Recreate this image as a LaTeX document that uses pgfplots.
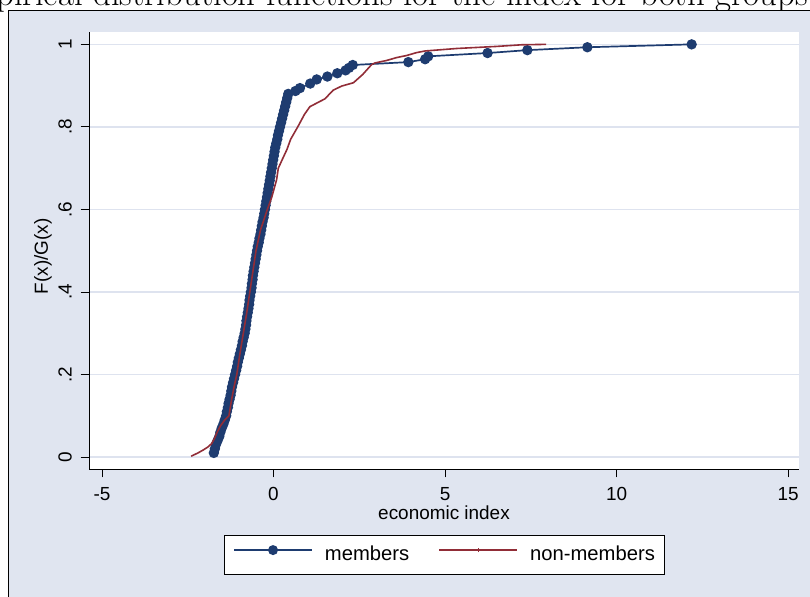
\documentclass[border=0pt]{standalone}
\usepackage{pgfplots}
\pgfplotsset{compat=1.18}
\usepackage{fontspec}
\newfontfamily\arial{Liberation Sans}
\definecolor{bgc}{RGB}{224,229,240}
\definecolor{gridc}{RGB}{222,227,239}
\definecolor{sblue}{RGB}{30,60,112}
\definecolor{sred}{RGB}{145,45,55}
\pgfplotsset{
  bluelegend/.style={legend image code/.code={\draw[mark repeat=2,mark phase=2,##1, line width=1.9bp, mark size=4bp] plot coordinates {(0bp,5bp) (39bp,5bp) (78bp,5bp)};}},
  redlegend/.style={legend image code/.code={\draw[sred, line width=1.9bp] (0bp,5bp) -- (78bp,5bp); \draw[sred, line width=0.8bp] (39bp,3bp) -- (39bp,7bp);}}
}
\begin{document}
\begin{tikzpicture}[x=1bp,y=1bp]
\useasboundingbox (0,0) rectangle (810,597);
\clip (0,0) rectangle (810,597);
\fill[white] (0,0) rectangle (810,597);
\node[anchor=base east, inner sep=0pt, font=\fontsize{34.9}{40}\selectfont] at (808,591) {Empirical distribution functions for the index for both groups};
\filldraw[fill=bgc, draw=black, line width=1bp] (8,586) rectangle (840,-30);
\begin{axis}[at={(89bp,128bp)}, anchor=south west, scale only axis,
  width=710bp, height=437bp,
  xmin=-5.379, xmax=15.32, ymin=-0.029, ymax=1.030,
  clip marker paths=true,
  axis x line*=bottom, axis y line*=left,
  axis line style={black, line width=0.8bp, -},
  axis background/.style={fill=white},
  xtick={-5,0,5,10,15}, xticklabels={-5,0,5,10,15},
  ytick={0,0.2,0.4,0.6,0.8,1}, yticklabels={0,.2,.4,.6,.8,1},
  tick align=outside, major tick length=8.5bp,
  tick style={black, line width=0.8bp},
  ymajorgrids, grid style={gridc, line width=1.5bp},
  xticklabel style={font=\arial\fontsize{19}{22}\selectfont, anchor=center, yshift=-16.5bp},
  yticklabel style={font=\arial\fontsize{19}{22}\selectfont, rotate=90, anchor=center, yshift=15.5bp},
  xlabel={economic index},
  xlabel style={font=\arial\fontsize{19}{22}\selectfont, at={(axis description cs:0.5,-0.1007)}, anchor=center},
  ylabel={F(x)/G(x)},
  ylabel style={font=\arial\fontsize{19}{22}\selectfont, at={(axis description cs:-0.0648,0.487)}, anchor=center},
  legend style={at={(0.5,-0.197)}, anchor=center, draw=black, fill=white,
    inner xsep=9bp, inner ysep=10bp,
    /tikz/every even column/.append style={column sep=29bp},
    /tikz/every odd column/.append style={column sep=12bp},
    nodes={inner sep=0pt, font=\arial\fontsize{20.3}{23}\selectfont, text height=15bp, text depth=4bp}},
  legend columns=2, legend cell align=left,
]
\addplot[sblue, line width=1.7bp, mark=*, mark size=4.3bp, mark options={solid, fill=sblue, draw=sblue}, bluelegend]
coordinates {
(-1.74,0.01) (-1.71,0.02) (-1.68,0.03) (-1.63,0.04) (-1.58,0.05)
(-1.55,0.06) (-1.51,0.07) (-1.46,0.08) (-1.42,0.09) (-1.38,0.10)
(-1.36,0.11) (-1.33,0.12) (-1.31,0.13) (-1.28,0.14) (-1.25,0.15)
(-1.23,0.16) (-1.21,0.17) (-1.18,0.18) (-1.15,0.19) (-1.12,0.20)
(-1.09,0.21) (-1.06,0.22) (-1.04,0.23) (-1.01,0.24) (-0.98,0.25)
(-0.95,0.26) (-0.92,0.27) (-0.90,0.28) (-0.87,0.29) (-0.84,0.30)
(-0.82,0.31) (-0.80,0.32) (-0.79,0.33) (-0.77,0.34) (-0.75,0.35)
(-0.73,0.36) (-0.71,0.37) (-0.70,0.38) (-0.68,0.39) (-0.66,0.40)
(-0.64,0.41) (-0.63,0.42) (-0.61,0.43) (-0.60,0.44) (-0.58,0.45)
(-0.56,0.46) (-0.54,0.47) (-0.52,0.48) (-0.50,0.49) (-0.48,0.50)
(-0.46,0.51) (-0.43,0.52) (-0.41,0.53) (-0.38,0.54) (-0.36,0.55)
(-0.34,0.56) (-0.32,0.57) (-0.29,0.58) (-0.27,0.59) (-0.25,0.60)
(-0.23,0.61) (-0.21,0.62) (-0.19,0.63) (-0.17,0.64) (-0.15,0.65)
(-0.13,0.66) (-0.11,0.67) (-0.09,0.68) (-0.07,0.69) (-0.05,0.70)
(-0.03,0.71) (-0.01,0.72) (0.01,0.73) (0.03,0.74) (0.05,0.75)
(0.08,0.76) (0.11,0.77) (0.13,0.78) (0.16,0.79) (0.19,0.80)
(0.22,0.81) (0.25,0.82) (0.28,0.83) (0.31,0.84) (0.34,0.85)
(0.37,0.86) (0.40,0.87) (0.43,0.88)
(0.64,0.887) (0.77,0.894) (1.07,0.905) (1.26,0.915) (1.57,0.922)
(1.86,0.930) (2.10,0.937) (2.20,0.943) (2.31,0.950)
(3.93,0.957) (4.42,0.964) (4.51,0.971) (6.24,0.979) (7.40,0.986)
(9.15,0.993) (12.19,1.0)
};
\addlegendentry{members}
\addplot[sred, line width=1.6bp, mark=none, redlegend]
coordinates {
(-2.40,0.002) (-2.20,0.010) (-2.05,0.017) (-1.90,0.025) (-1.80,0.033)
(-1.72,0.045) (-1.66,0.057) (-1.55,0.075) (-1.42,0.090) (-1.30,0.100)
(-1.22,0.140) (-1.15,0.170) (-1.07,0.200) (-0.98,0.250) (-0.88,0.300)
(-0.78,0.350) (-0.69,0.400) (-0.60,0.450) (-0.51,0.500) (-0.38,0.550)
(-0.18,0.600) (-0.05,0.630) (0.09,0.672) (0.14,0.700) (0.25,0.720)
(0.39,0.745) (0.50,0.770) (0.72,0.802) (0.90,0.830) (1.06,0.849)
(1.36,0.862) (1.50,0.868) (1.74,0.889) (1.99,0.899) (2.33,0.907)
(2.60,0.927) (2.86,0.951) (2.96,0.955) (3.30,0.961) (3.59,0.968)
(3.88,0.973) (4.17,0.980) (4.42,0.984) (5.34,0.990) (6.50,0.995)
(7.24,0.999) (7.95,1.0)
};
\addlegendentry{non-members}
\end{axis}
\end{tikzpicture}
\end{document}
